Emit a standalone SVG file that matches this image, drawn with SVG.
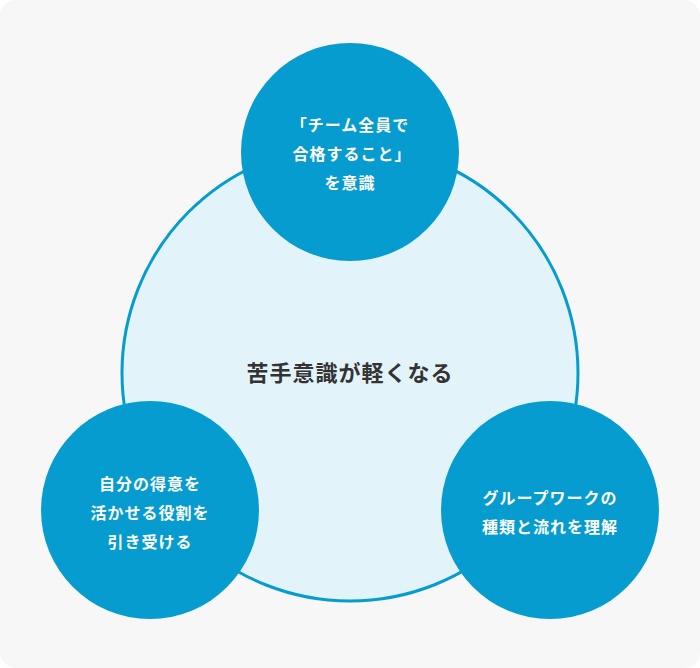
<svg xmlns="http://www.w3.org/2000/svg" width="700" height="668" viewBox="0 0 700 668">
<style>
.n{fill:#069ccf}
.t{font-family:"Noto Sans CJK JP","Noto Sans",sans-serif;font-weight:bold;font-size:16px;fill:#fff;text-anchor:middle;letter-spacing:1px}
.c{font-family:"Noto Sans CJK JP","Noto Sans",sans-serif;font-weight:bold;font-size:22px;fill:#333;text-anchor:middle;letter-spacing:1px}
</style>
<rect x="0" y="0" width="700" height="668" rx="16" fill="#f7f7f8"/>
<g id="center">
<circle cx="350" cy="373" r="228" fill="#e3f3fa" stroke="#069ccf" stroke-width="3"/>
<text class="c" x="350" y="381">苦手意識が軽くなる</text>
</g>
<g id="top">
<circle class="n" cx="350" cy="152" r="109"/>
<text class="t" x="350" y="131">「チーム全員で</text>
<text class="t" x="352" y="160">合格すること」</text>
<text class="t" x="350" y="189">を意識</text>
</g>
<g id="left">
<circle class="n" cx="150" cy="510" r="109"/>
<text class="t" x="150" y="490">自分の得意を</text>
<text class="t" x="150" y="519">活かせる役割を</text>
<text class="t" x="150" y="548">引き受ける</text>
</g>
<g id="right">
<circle class="n" cx="550" cy="510" r="109"/>
<text class="t" x="550" y="504">グループワークの</text>
<text class="t" x="550" y="533">種類と流れを理解</text>
</g>
<g id="connectors"></g>
</svg>
